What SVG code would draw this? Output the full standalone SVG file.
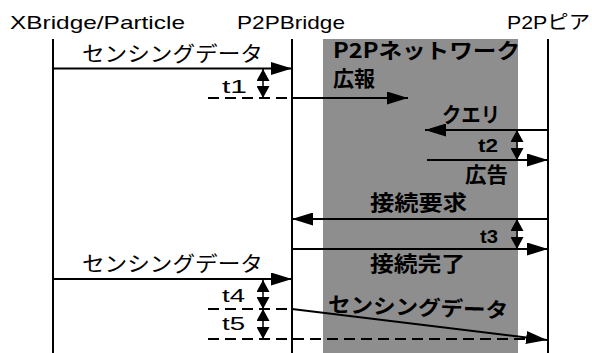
<svg xmlns="http://www.w3.org/2000/svg" width="592" height="353" viewBox="0 0 592 353">
<style>
.hdr{font-family:"Liberation Sans","Noto Sans CJK JP",sans-serif;font-size:19px;fill:#000}
.lbl{font-family:"Noto Sans CJK JP","Liberation Sans",sans-serif;font-size:21px;fill:#000}
.b{font-weight:bold}
.t{font-family:"Liberation Sans",sans-serif;font-size:18px;fill:#000}
.life{stroke:#000;stroke-width:2;fill:none}
.msg{stroke:#000;stroke-width:2;fill:none;marker-end:url(#ah)}
.dash{stroke:#000;stroke-width:2;fill:none;stroke-dasharray:11 6}
.dbl{stroke:#000;stroke-width:1.5;fill:none;marker-start:url(#dh);marker-end:url(#dh)}
</style>
<defs>
<marker id="ah" markerUnits="userSpaceOnUse" markerWidth="21" markerHeight="13" refX="21" refY="6.5" orient="auto"><path d="M0,0 L21,6.5 L0,13 z" fill="#000"/></marker>
<marker id="dh" markerUnits="userSpaceOnUse" markerWidth="12" markerHeight="13" refX="12" refY="6.5" orient="auto-start-reverse"><path d="M0,0 L12,6.5 L0,13 z" fill="#000"/></marker>
</defs>
<rect width="592" height="353" fill="#fff"/>
<g id="p2p-network-area">
<rect x="323" y="39" width="195" height="314" fill="#8e8e8e"/>
</g>
<g id="xbridge">
<text class="hdr" x="10" y="29" textLength="175" lengthAdjust="spacingAndGlyphs">XBridge/Particle</text>
<line class="life" x1="53" y1="39" x2="53" y2="353"/>
</g>
<g id="p2pbridge">
<text class="hdr" x="237" y="29" textLength="108" lengthAdjust="spacingAndGlyphs">P2PBridge</text>
<line class="life" x1="292" y1="39" x2="292" y2="353"/>
</g>
<g id="p2ppeer">
<text class="hdr" x="507" y="29" textLength="83" lengthAdjust="spacingAndGlyphs">P2Pピア</text>
<line class="life" x1="548" y1="39" x2="548" y2="353"/>
</g>
<g id="connectors">
<line class="msg" x1="53" y1="68.5" x2="292" y2="68.5"/>
<line class="dash" x1="208" y1="98" x2="292" y2="98"/>
<line class="msg" x1="292" y1="98" x2="408" y2="98"/>
<line class="dbl" x1="263" y1="69" x2="263" y2="98"/>
<line class="msg" x1="548" y1="130" x2="425" y2="130"/>
<line class="msg" x1="427" y1="160" x2="548" y2="160"/>
<line class="dbl" x1="517" y1="130" x2="517" y2="160"/>
<line class="msg" x1="548" y1="219" x2="292" y2="219"/>
<line class="msg" x1="292" y1="249" x2="548" y2="249"/>
<line class="dbl" x1="517" y1="219" x2="517" y2="249"/>
<line class="msg" x1="53" y1="279" x2="292" y2="279"/>
<line class="dash" x1="208" y1="309" x2="292" y2="309"/>
<line class="dbl" x1="263" y1="280" x2="263" y2="309"/>
<line class="dash" x1="208" y1="339" x2="530" y2="339"/>
<line class="dbl" x1="263" y1="309" x2="263" y2="339"/>
<line class="msg" x1="292" y1="309" x2="547" y2="340"/>
</g>
<g id="labels">
<text class="lbl" x="82" y="61" textLength="181" lengthAdjust="spacingAndGlyphs">センシングデータ</text>
<text class="lbl b" x="333" y="58" font-size="19" textLength="187" lengthAdjust="spacingAndGlyphs">P2Pネットワーク</text>
<text class="lbl b" x="333" y="86" font-size="19" textLength="42" lengthAdjust="spacingAndGlyphs">広報</text>
<text class="t" x="222" y="93" textLength="25" lengthAdjust="spacingAndGlyphs">t1</text>
<text class="lbl b" x="442" y="122" textLength="58" lengthAdjust="spacingAndGlyphs">クエリ</text>
<text class="t b" x="478" y="152" textLength="20" lengthAdjust="spacingAndGlyphs">t2</text>
<text class="lbl b" x="465" y="182" textLength="43" lengthAdjust="spacingAndGlyphs">広告</text>
<text class="lbl b" x="370" y="210" textLength="97" lengthAdjust="spacingAndGlyphs">接続要求</text>
<text class="t b" x="480" y="243" textLength="18" lengthAdjust="spacingAndGlyphs">t3</text>
<text class="lbl b" x="370" y="271" textLength="95" lengthAdjust="spacingAndGlyphs">接続完了</text>
<text class="lbl" x="82" y="271" textLength="181" lengthAdjust="spacingAndGlyphs">センシングデータ</text>
<text class="t" x="222" y="302" textLength="23" lengthAdjust="spacingAndGlyphs">t4</text>
<text class="t" x="222" y="330" textLength="23" lengthAdjust="spacingAndGlyphs">t5</text>
<text class="lbl b" x="328" y="315" textLength="180" lengthAdjust="spacingAndGlyphs" transform="rotate(2 418 308)">センシングデータ</text>
</g>
</svg>
